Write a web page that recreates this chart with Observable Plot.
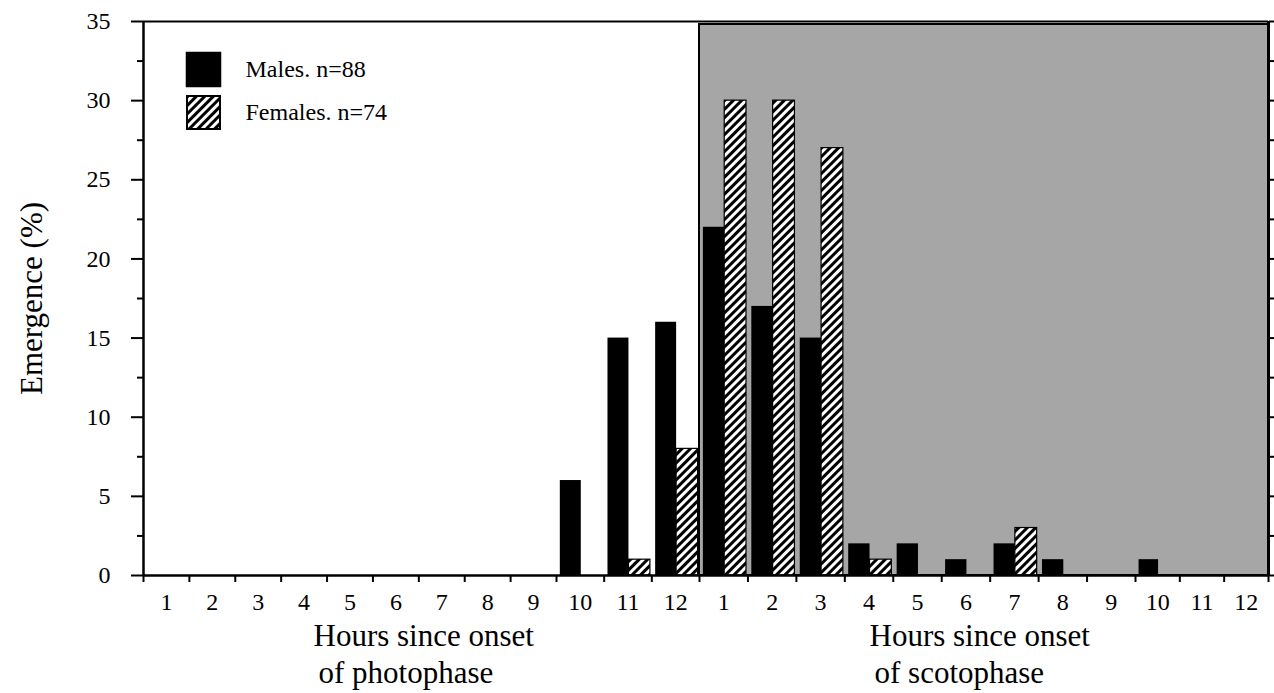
<!DOCTYPE html>
<html>
<head>
<meta charset="utf-8">
<script src="https://cdn.jsdelivr.net/npm/d3@7"></script>
<script src="https://cdn.jsdelivr.net/npm/@observablehq/plot@0.6"></script>
<style>
  html, body { margin: 0; padding: 0; background: #fff; }
  #chart svg { display: block; }
</style>
</head>
<body>
<div id="chart"></div>
<script>
// ---- data ----
const hourLabels = ["1","2","3","4","5","6","7","8","9","10","11","12",
                    "1","2","3","4","5","6","7","8","9","10","11","12"];
const malesPct   = [0,0,0,0,0,0,0,0,0,6,15,16, 22,17,15,2,2,1,2,1,0,1,0,0];
const femalesPct = [0,0,0,0,0,0,0,0,0,0,1,8,  30,30,27,1,0,0,3,0,0,0,0,0];
const seriesNames = ["Males. n=88", "Females. n=74"];
const phaseNames = ["photophase", "scotophase"];
const phaseStart = [0, 12];
const phaseEnd = [12, 24];
const yMajorTicks = [0,5,10,15,20,25,30,35];
const yMinorTicks = [2.5,7.5,12.5,17.5,22.5,27.5,32.5];

// ---- tables built from the arrays ----
const rows = hourLabels.map((label, i) => ({i, label, male: malesPct[i], female: femalesPct[i]}));
const phases = phaseNames.map((name, k) => ({name, start: phaseStart[k], end: phaseEnd[k]}));
const scoto = phases.filter(p => p.name === "scotophase");

const GREY = "#a6a6a6";

const chart = Plot.plot({
  width: 1274,
  height: 693,
  marginLeft: 143,
  marginRight: 6,
  marginTop: 21,
  marginBottom: 118,
  style: {fontFamily: "'Liberation Serif', 'Times New Roman', serif", fontSize: "24px", background: "white", color: "black"},
  x: {type: "linear", domain: [0, 9, 12, 21, 24], range: [143, 556, 699, 1135, 1268]},
  y: {type: "linear", domain: [0, 35]},
  marks: [
    // scotophase shading
    Plot.rect(scoto, {x1: "start", x2: "end", y1: 0, y2: 35, insetTop: 3, fill: GREY, stroke: "black", strokeWidth: 2}),
    // bars
    Plot.rectY(rows.filter(d => d.male > 0), {x1: d => d.i + 0.08, x2: d => d.i + 0.52, y1: 0, y2: "male", fill: "black"}),
    Plot.rectY(rows.filter(d => d.female > 0), {x1: d => d.i + 0.52, x2: d => d.i + 0.97, y1: 0, y2: "female", fill: "url(#hatch)", stroke: "black", strokeWidth: 1.2}),
    // frame lines
    Plot.ruleY([35], {strokeWidth: 2}),
    Plot.ruleY([0], {strokeWidth: 2.5}),
    Plot.ruleX([0], {strokeWidth: 2.5}),
    Plot.ruleX([24], {strokeWidth: 3}),
    // y axis (left)
    Plot.axisY({ticks: yMajorTicks, tickSize: 12, tickPadding: 21, strokeWidth: 2, label: null, fontSize: 24}),
    Plot.axisY({ticks: yMinorTicks, tickSize: 6, tickFormat: () => "", strokeWidth: 2, label: null}),
    // right axis ticks
    Plot.axisY({anchor: "right", ticks: yMajorTicks.concat(yMinorTicks), tickSize: 6, tickFormat: () => "", strokeWidth: 2, label: null}),
    // x axis: boundary ticks and centred labels
    Plot.axisX({ticks: d3.range(0, 25), tickSize: 7, tickFormat: () => "", strokeWidth: 2, label: null}),
    Plot.axisX({ticks: d3.range(0, 24).map(i => i + 0.5), tickSize: 0, tickPadding: 17,
                tickFormat: v => hourLabels[Math.floor(v)], label: null, fontSize: 24}),
    // axis titles
    Plot.text(phases, {x: "start", frameAnchor: "bottom", text: () => "Hours since onset", textAnchor: "start", lineAnchor: "top", dx: 170, dy: 48, fontSize: 31}),
    Plot.text(phases, {x: "start", frameAnchor: "bottom", text: d => "of " + d.name, textAnchor: "start", lineAnchor: "top", dx: 175, dy: 85, fontSize: 31}),
    Plot.text(["Emergence (%)"], {frameAnchor: "left", textAnchor: "middle", lineAnchor: "middle", rotate: -90, dx: -111, fontSize: 31}),
    // legend
    Plot.dot([seriesNames[0]], {frameAnchor: "top-left", dx: 60, dy: 48, symbol: "square", r: 19.2, fill: "black", stroke: "black"}),
    Plot.dot([seriesNames[1]], {frameAnchor: "top-left", dx: 60, dy: 91, symbol: "square", r: 18.6, fill: "url(#hatch)", stroke: "black", strokeWidth: 2}),
    Plot.text([seriesNames[0]], {frameAnchor: "top-left", dx: 102, dy: 48, textAnchor: "start", lineAnchor: "middle", fontSize: 24}),
    Plot.text([seriesNames[1]], {frameAnchor: "top-left", dx: 102, dy: 91, textAnchor: "start", lineAnchor: "middle", fontSize: 24})
  ]
});

// hatch pattern definition
const svgNS = "http://www.w3.org/2000/svg";
const defs = document.createElementNS(svgNS, "defs");
defs.innerHTML = '<pattern id="hatch" patternUnits="userSpaceOnUse" width="6" height="6" patternTransform="rotate(45)">' +
  '<rect width="6" height="6" fill="white"></rect>' +
  '<line x1="1.5" y1="0" x2="1.5" y2="6" stroke="black" stroke-width="3"></line></pattern>';
chart.insertBefore(defs, chart.firstChild);

document.getElementById("chart").appendChild(chart);
</script>
</body>
</html>
